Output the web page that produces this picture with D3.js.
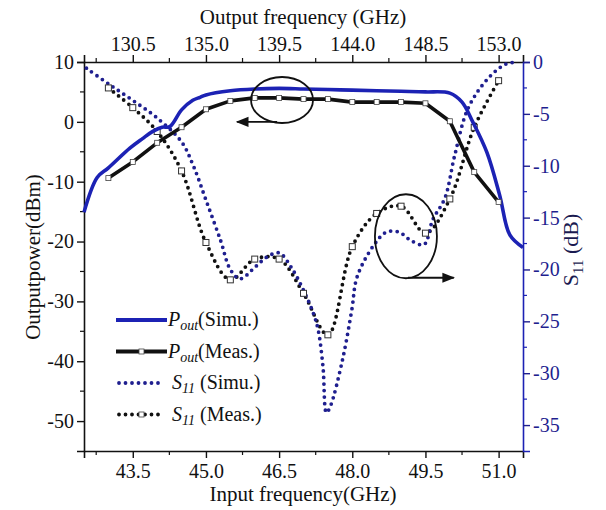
<!DOCTYPE html>
<html>
<head>
<meta charset="utf-8">
<script src="https://cdn.jsdelivr.net/npm/d3@7"></script>
<style>
  body { margin: 0; background: #fff; }
  #chart, #chart text { font-family: "Liberation Serif", "DejaVu Serif", Times, serif !important; }
</style>
</head>
<body>
<svg id="chart" width="606" height="510"></svg>
<script>
// input frequency (GHz) ticks, output = 3x input
const bottomTicks = [43.5, 45.0, 46.5, 48.0, 49.5, 51.0];
const topTicks = [130.5, 135.0, 139.5, 144.0, 148.5, 153.0];
const leftTicks = [10, 0, -10, -20, -30, -40, -50];
const rightTicks = [0, -5, -10, -15, -20, -25, -30, -35];

// Pout simulated (solid blue)
const poutSimFreq = [42.5, 42.77, 43.0, 43.44, 43.7, 43.91, 44.1, 44.26, 44.5, 44.73, 44.88, 45.0, 45.5, 46.0, 46.5, 47.0, 47.5, 48.0, 48.5, 49.0, 49.5, 50.0, 50.25, 50.47, 50.76, 51.02, 51.23, 51.5];
const poutSimVal  = [-15.1, -9.3, -7.7, -4.4, -2.8, -1.6, -0.9, -0.8, 2.0, 3.6, 4.1, 4.5, 5.2, 5.5, 5.6, 5.5, 5.4, 5.3, 5.2, 5.1, 5.0, 4.8, 3.3, 0.0, -5.1, -12.2, -18.9, -21.0];

// Pout measured (solid black, square markers)
const poutMeasFreq = [43.0, 43.5, 44.0, 44.5, 45.0, 45.5, 46.0, 46.5, 47.0, 47.5, 48.0, 48.5, 49.0, 49.5, 50.0, 50.5, 51.0];
const poutMeasVal  = [-9.4, -6.7, -3.5, -0.9, 2.1, 3.5, 4.0, 4.0, 3.8, 3.8, 3.3, 3.3, 3.3, 3.1, 0.1, -8.4, -13.4];

// S11 simulated (blue dots)
const s11SimFreq = [42.55, 43.0, 43.5, 44.0, 44.5, 44.75, 45.0, 45.3, 45.5, 45.7, 46.0, 46.25, 46.5, 46.75, 47.0, 47.2, 47.3, 47.4, 47.47, 47.55, 47.8, 47.99, 48.1, 48.45, 48.7, 48.96, 49.2, 49.47, 49.65, 49.9, 50.1, 50.38, 50.8, 51.15, 51.4];
const s11SimVal  = [-0.6, -2.1, -3.7, -5.4, -7.7, -10.1, -13.3, -17.2, -20.0, -20.9, -19.8, -18.8, -18.4, -19.8, -22.0, -24.2, -25.8, -29.4, -33.8, -33.2, -28.7, -23.9, -20.7, -17.6, -16.4, -16.4, -17.2, -17.6, -15.2, -13.1, -9.0, -4.4, -1.5, -0.2, 0.0];

// S11 measured (black dots, square markers)
const s11MeasFreq = [43.0, 43.5, 44.0, 44.5, 45.0, 45.5, 46.0, 46.5, 47.0, 47.5, 48.0, 48.5, 49.0, 49.5, 50.0, 50.5, 51.0];
const s11MeasVal  = [-2.5, -4.4, -6.7, -10.5, -17.4, -21.0, -19.0, -19.0, -22.3, -26.3, -17.8, -14.6, -13.9, -16.5, -13.2, -6.3, -1.8];

const blue = '#1c22b4';
const navy = '#1f1f8f';

const svg = d3.select('#chart');
const x = d3.scaleLinear([42.5, 51.5], [84, 523]);
const xTop = d3.scaleLinear([127.5, 154.5], [84, 523]);
const yL = d3.scaleLinear([-55, 10], [451, 62]);
const yR = d3.scaleLinear([-37.5, 0], [451, 62]);

const zip = (f, v) => f.map((d, i) => [d, v[i]]);

// axes
const fmt1 = d3.format('.1f');
function styleAxis(g, color) {
  g.attr('font-family', null);
  g.select('.domain').attr('stroke', color).attr('stroke-width', 1.6);
  g.selectAll('.tick line').attr('stroke', color).attr('stroke-width', 1.4);
  g.selectAll('.tick text').attr('fill', color).attr('font-size', '20px');
}
function minor(g, scale, vals, orient, color) {
  g.selectAll(null).data(vals).join('line')
    .attr('stroke', color).attr('stroke-width', 1.2)
    .each(function (d) {
      const s = d3.select(this), p = scale(d);
      if (orient === 'bottom') s.attr('x1', p).attr('x2', p).attr('y1', 451).attr('y2', 455);
      if (orient === 'top') s.attr('x1', p).attr('x2', p).attr('y1', 62).attr('y2', 58);
      if (orient === 'left') s.attr('y1', p).attr('y2', p).attr('x1', 84).attr('x2', 80);
      if (orient === 'right') s.attr('y1', p).attr('y2', p).attr('x1', 523).attr('x2', 527);
    });
}

const gB = svg.append('g').attr('transform', 'translate(0,451)')
  .call(d3.axisBottom(x).tickValues(bottomTicks).tickFormat(fmt1).tickSize(7).tickPadding(6));
styleAxis(gB, '#111');
const gT = svg.append('g').attr('transform', 'translate(0,62)')
  .call(d3.axisTop(xTop).tickValues(topTicks).tickFormat(fmt1).tickSize(7).tickPadding(4));
styleAxis(gT, '#111');
const gL = svg.append('g').attr('transform', 'translate(84,0)')
  .call(d3.axisLeft(yL).tickValues(leftTicks).tickFormat(d => String(d)).tickSize(7).tickPadding(3));
styleAxis(gL, '#111');
const gR = svg.append('g').attr('transform', 'translate(523,0)')
  .call(d3.axisRight(yR).tickValues(rightTicks).tickFormat(d => String(d)).tickSize(7).tickPadding(3));
styleAxis(gR, navy);
gR.select('.domain').attr('stroke', blue);

const gm = svg.append('g');
minor(gm.append('g'), x, [42.75, 44.25, 45.75, 47.25, 48.75, 50.25], 'bottom', '#111');
minor(gm.append('g'), xTop, [128.25, 132.75, 137.25, 141.75, 146.25, 150.75], 'top', '#111');
minor(gm.append('g'), yL, [5, -5, -15, -25, -35, -45], 'left', '#111');
minor(gm.append('g'), yR, [-2.5, -7.5, -12.5, -17.5, -22.5, -27.5, -32.5], 'right', blue);

// axis titles
svg.append('text').attr('x', 303).attr('y', 24).attr('text-anchor', 'middle')
  .attr('font-size', '21px').attr('fill', '#111').text('Output frequency (GHz)');
svg.append('text').attr('x', 303).attr('y', 501).attr('text-anchor', 'middle')
  .attr('font-size', '21px').attr('fill', '#111').text('Input frequency(GHz)');
svg.append('text').attr('transform', 'translate(40,257) rotate(-90)').attr('text-anchor', 'middle')
  .attr('font-size', '21px').attr('fill', '#111').text('Outputpower(dBm)');
const rt = svg.append('text').attr('transform', 'translate(578,250) rotate(-90)').attr('text-anchor', 'middle')
  .attr('font-size', '22px').attr('fill', '#1a1a50');
rt.append('tspan').text('S');
rt.append('tspan').attr('font-size', '15px').attr('dy', 5).text('11');
rt.append('tspan').attr('dy', -5).text(' (dB)');

// curves
const plot = svg.append('g');
const lineL = d3.line().x(d => x(d[0])).y(d => yL(d[1]));
const lineLs = d3.line().x(d => x(d[0])).y(d => yL(d[1])).curve(d3.curveCatmullRom.alpha(0.5));
const lineRs = d3.line().x(d => x(d[0])).y(d => yR(d[1])).curve(d3.curveCatmullRom.alpha(0.5));

const s11Meas = zip(s11MeasFreq, s11MeasVal);
plot.append('path').datum(s11Meas).attr('d', lineRs)
  .attr('fill', 'none').attr('stroke', '#111').attr('stroke-width', 3.8)
  .attr('stroke-linecap', 'round').attr('stroke-dasharray', '0 6.5');
plot.append('path').datum(zip(s11SimFreq, s11SimVal)).attr('d', lineRs)
  .attr('fill', 'none').attr('stroke', navy).attr('stroke-width', 3.8)
  .attr('stroke-linecap', 'round').attr('stroke-dasharray', '0 6.5');
plot.selectAll('rect.s11m').data(s11Meas).join('rect').attr('class', 's11m')
  .attr('x', d => x(d[0]) - 3).attr('y', d => yR(d[1]) - 3).attr('width', 6).attr('height', 6)
  .attr('fill', '#fff').attr('stroke', '#333').attr('stroke-width', 1);

plot.append('path').datum(zip(poutSimFreq, poutSimVal)).attr('d', lineLs)
  .attr('fill', 'none').attr('stroke', blue).attr('stroke-width', 3.6).attr('stroke-linejoin', 'round');
const poutMeas = zip(poutMeasFreq, poutMeasVal);
plot.append('path').datum(poutMeas).attr('d', lineL)
  .attr('fill', 'none').attr('stroke', '#111').attr('stroke-width', 3.6).attr('stroke-linejoin', 'round');
plot.selectAll('rect.pm').data(poutMeas).join('rect').attr('class', 'pm')
  .attr('x', d => x(d[0]) - 2.5).attr('y', d => yL(d[1]) - 2.5).attr('width', 5).attr('height', 5)
  .attr('fill', '#fff').attr('stroke', '#444').attr('stroke-width', 0.8);

// annotations: ellipses with arrows pointing to the matching axis
svg.append('defs').append('marker').attr('id', 'ah').attr('viewBox', '0 0 10 10')
  .attr('refX', 9).attr('refY', 5).attr('markerWidth', 7).attr('markerHeight', 7).attr('orient', 'auto')
  .append('path').attr('d', 'M0,1 L10,5 L0,9 z').attr('fill', '#111');
const ann = svg.append('g').attr('fill', 'none').attr('stroke', '#111').attr('stroke-width', 1.8);
ann.append('ellipse').attr('cx', x(46.56)).attr('cy', yL(3.65)).attr('rx', 31).attr('ry', 23);
ann.append('line').attr('x1', x(46.46)).attr('y1', yL(0)).attr('x2', x(45.64)).attr('y2', yL(0))
  .attr('marker-end', 'url(#ah)');
ann.append('ellipse').attr('cx', x(49.1)).attr('cy', yR(-16.8)).attr('rx', 31).attr('ry', 42);
ann.append('line').attr('x1', x(49.14)).attr('y1', yR(-20.8)).attr('x2', x(50.08)).attr('y2', yR(-20.8))
  .attr('marker-end', 'url(#ah)');

// legend
const legend = [
  { base: 'P', sub: 'out', rest: '(Simu.)', color: blue, dash: null, mark: false },
  { base: 'P', sub: 'out', rest: '(Meas.)', color: '#111', dash: null, mark: true },
  { base: 'S', sub: '11', rest: ' (Simu.)', color: navy, dash: '0 6.5', mark: false },
  { base: 'S', sub: '11', rest: ' (Meas.)', color: '#111', dash: '0 6.5', mark: true },
];
const lg = svg.append('g');
legend.forEach((d, i) => {
  const yy = 320 + i * 31.5;
  const ln = lg.append('line').attr('x1', d.dash ? 119 : 116).attr('x2', d.dash ? 163 : 167)
    .attr('y1', yy).attr('y2', yy).attr('stroke', d.color).attr('stroke-width', 3.8)
    .attr('stroke-linecap', d.dash ? 'round' : 'butt');
  if (d.dash) ln.attr('stroke-dasharray', d.dash);
  if (d.mark) lg.append('rect').attr('x', 139).attr('y', yy - 2.5).attr('width', 5).attr('height', 5)
    .attr('fill', '#fff').attr('stroke', '#444').attr('stroke-width', 0.8);
  const t = lg.append('text').attr('x', d.dash ? 172 : 168).attr('y', yy + 6)
    .attr('font-size', '20px').attr('fill', '#111');
  t.append('tspan').attr('font-style', 'italic').text(d.base);
  t.append('tspan').attr('font-style', 'italic').attr('font-size', '14px').attr('dy', 4).text(d.sub);
  t.append('tspan').attr('dy', -4).text(d.rest);
});
</script>
</body>
</html>
